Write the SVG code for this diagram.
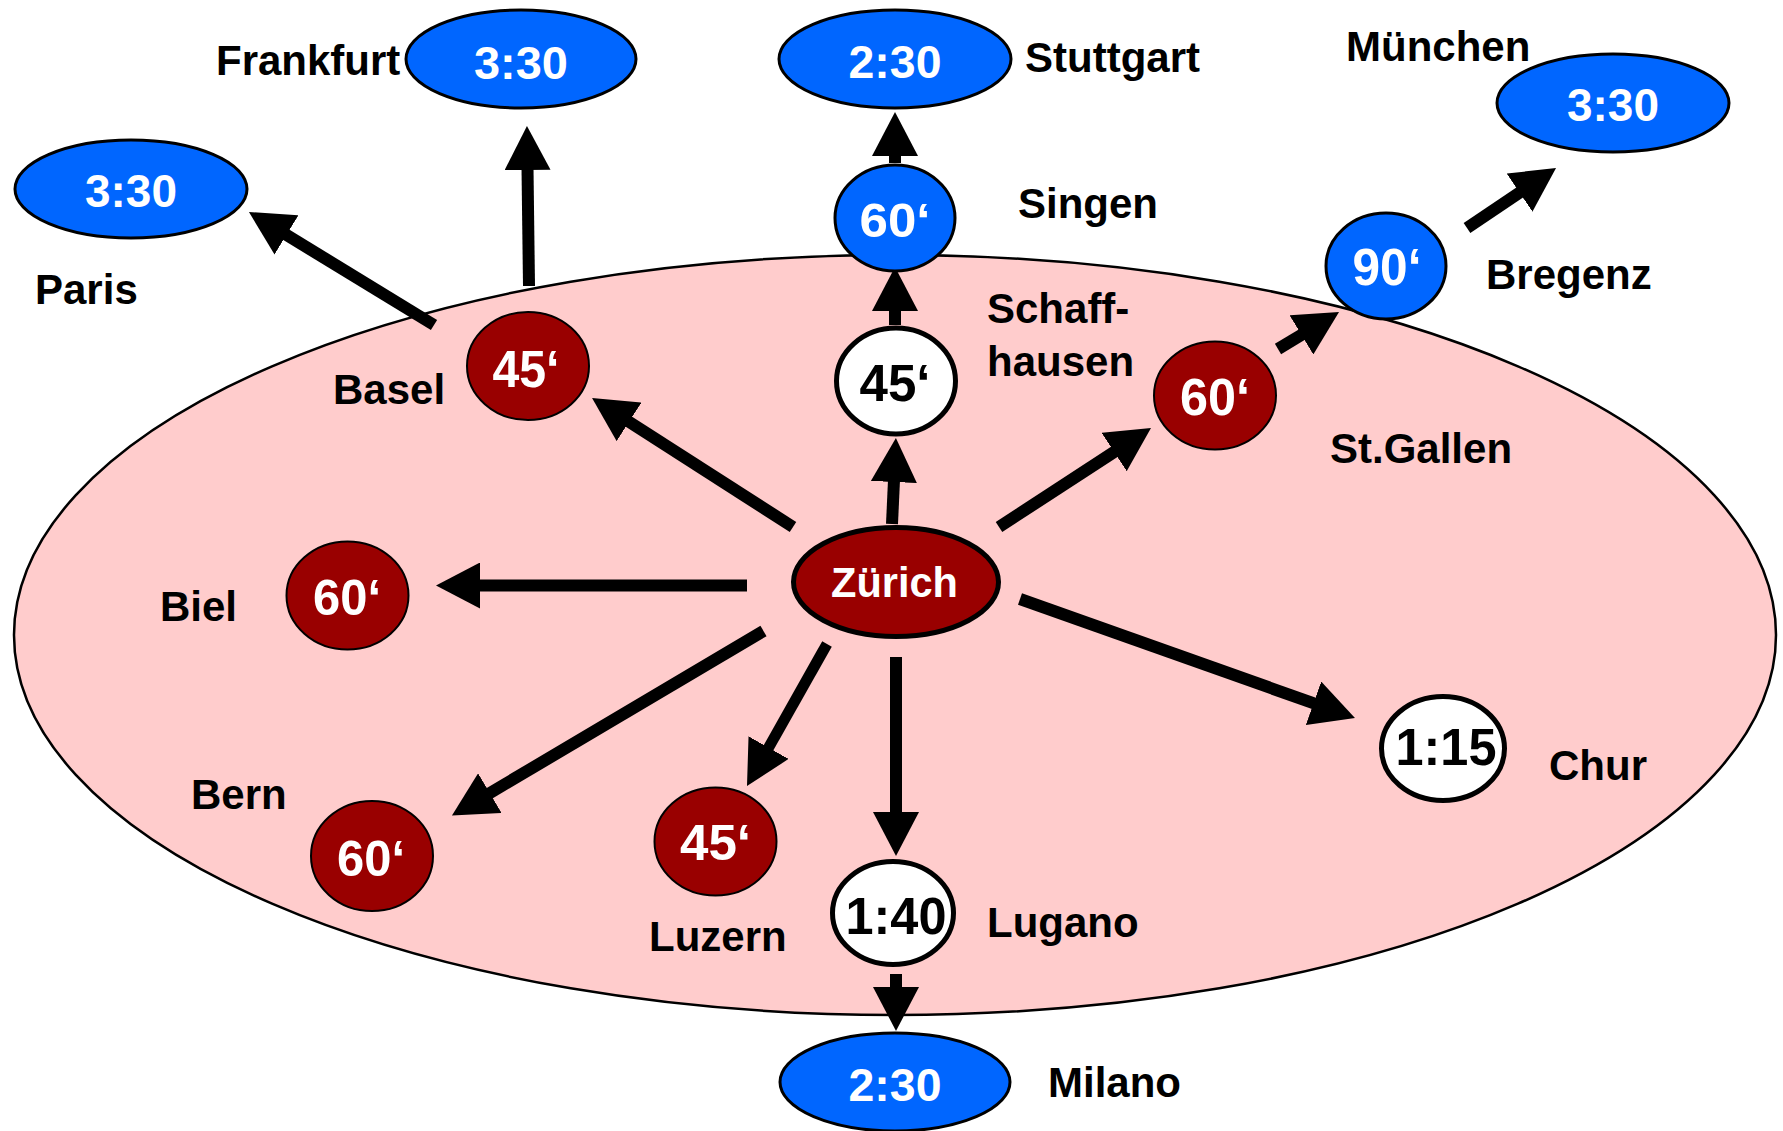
<svg xmlns="http://www.w3.org/2000/svg" width="1783" height="1131" viewBox="0 0 1783 1131">
<defs>
<style>
text{font-family:"Liberation Sans",Arial,sans-serif;font-weight:bold}
.lbl{font-size:42px;fill:#000}
.num{text-anchor:middle;fill:#fff}
.blue{fill:#0066FF;stroke:#000;stroke-width:3}
.red{fill:#990000;stroke:#000;stroke-width:2}
.wht{fill:#fff;stroke:#000;stroke-width:5}
.conn line{stroke:#000;stroke-width:12;stroke-linecap:butt;marker-end:url(#ah)}
</style>
<marker id="ah" viewBox="0 -23 46 46" markerWidth="46" markerHeight="46" refX="2" refY="0" markerUnits="userSpaceOnUse" orient="auto">
<path d="M0,-23 L44,0 L0,23 Z" fill="#000"/>
</marker>
</defs>
<rect width="1783" height="1131" fill="#fff"/>
<g id="region">
<ellipse cx="895" cy="635" rx="881" ry="380" fill="#FFCCCC" stroke="#000" stroke-width="2.5"/>
</g>
<g id="connectors" class="conn">
<line x1="793" y1="527" x2="627.4" y2="420.7"/>
<line x1="747" y1="585.5" x2="478" y2="585.5"/>
<line x1="763.5" y1="631" x2="488.1" y2="794.1"/>
<line x1="827" y1="644" x2="767.6" y2="749.4" style="stroke-width:11"/>
<line x1="896" y1="657" x2="896" y2="814"/>
<line x1="896" y1="974" x2="896" y2="989"/>
<line x1="892" y1="524" x2="894" y2="480"/>
<line x1="895" y1="325" x2="895" y2="309"/>
<line x1="895" y1="163" x2="895" y2="154"/>
<line x1="999" y1="527" x2="1115.8" y2="450.9"/>
<line x1="1278" y1="349" x2="1303.1" y2="333.8"/>
<line x1="1467" y1="228" x2="1521.2" y2="191.5"/>
<line x1="1020" y1="599" x2="1315.4" y2="703.9"/>
<line x1="434" y1="325" x2="284.8" y2="233.9"/>
<line x1="529" y1="286" x2="527.5" y2="168"/>
</g>
<g id="paris">
<ellipse class="blue" cx="131" cy="189" rx="116" ry="49"/>
<text class="num" x="131" y="207" font-size="47" textLength="92" lengthAdjust="spacingAndGlyphs">3:30</text>
<text class="lbl" x="35" y="304">Paris</text>
</g>
<g id="frankfurt">
<ellipse class="blue" cx="521" cy="59" rx="115" ry="49"/>
<text class="num" x="521" y="79" font-size="47" textLength="94" lengthAdjust="spacingAndGlyphs">3:30</text>
<text class="lbl" x="216" y="75">Frankfurt</text>
</g>
<g id="stuttgart">
<ellipse class="blue" cx="895" cy="59" rx="116" ry="49"/>
<text class="num" x="895" y="78" font-size="47" textLength="93" lengthAdjust="spacingAndGlyphs">2:30</text>
<text class="lbl" x="1025" y="72">Stuttgart</text>
</g>
<g id="muenchen">
<ellipse class="blue" cx="1613" cy="103" rx="116" ry="49"/>
<text class="num" x="1613" y="121" font-size="47" textLength="92" lengthAdjust="spacingAndGlyphs">3:30</text>
<text class="lbl" x="1346" y="61">München</text>
</g>
<g id="singen">
<ellipse class="blue" cx="895" cy="218" rx="60" ry="53"/>
<text class="num" x="895" y="237" font-size="49" textLength="71" lengthAdjust="spacingAndGlyphs">60‘</text>
<text class="lbl" x="1018" y="218">Singen</text>
</g>
<g id="bregenz">
<ellipse class="blue" cx="1386" cy="266" rx="60" ry="53"/>
<text class="num" x="1387" y="285" font-size="51" textLength="69" lengthAdjust="spacingAndGlyphs">90‘</text>
<text class="lbl" x="1486" y="289">Bregenz</text>
</g>
<g id="schaffhausen">
<ellipse class="wht" cx="896" cy="381" rx="59.5" ry="53"/>
<text class="num" x="895" y="401" font-size="51" textLength="71" lengthAdjust="spacingAndGlyphs" style="fill:#000">45‘</text>
<text class="lbl" x="987" y="323">Schaff-</text>
<text class="lbl" x="987" y="376">hausen</text>
</g>
<g id="stgallen">
<ellipse class="red" cx="1215" cy="395.5" rx="61" ry="54"/>
<text class="num" x="1215" y="415" font-size="51" textLength="70" lengthAdjust="spacingAndGlyphs">60‘</text>
<text class="lbl" x="1330" y="463">St.Gallen</text>
</g>
<g id="basel">
<ellipse class="red" cx="528" cy="366" rx="61" ry="54"/>
<text class="num" x="526" y="387" font-size="51" textLength="67" lengthAdjust="spacingAndGlyphs">45‘</text>
<text class="lbl" x="333" y="404">Basel</text>
</g>
<g id="biel">
<ellipse class="red" cx="347.5" cy="595.5" rx="61" ry="54"/>
<text class="num" x="347" y="615" font-size="50" textLength="68" lengthAdjust="spacingAndGlyphs">60‘</text>
<text class="lbl" x="160" y="621">Biel</text>
</g>
<g id="bern">
<ellipse class="red" cx="372" cy="856" rx="61" ry="55"/>
<text class="num" x="371" y="876" font-size="50" textLength="68" lengthAdjust="spacingAndGlyphs">60‘</text>
<text class="lbl" x="191" y="809">Bern</text>
</g>
<g id="luzern">
<ellipse class="red" cx="715.5" cy="841.5" rx="61" ry="54"/>
<text class="num" x="715.5" y="860" font-size="50" textLength="71" lengthAdjust="spacingAndGlyphs">45‘</text>
<text class="lbl" x="649" y="951">Luzern</text>
</g>
<g id="lugano">
<ellipse class="wht" cx="893" cy="913" rx="60.5" ry="51.5"/>
<text class="num" x="896" y="934" font-size="51" textLength="101" lengthAdjust="spacingAndGlyphs" style="fill:#000">1:40</text>
<text class="lbl" x="987" y="937">Lugano</text>
</g>
<g id="chur">
<ellipse class="wht" cx="1443" cy="748.5" rx="61.5" ry="52"/>
<text class="num" x="1446" y="765" font-size="51" textLength="101" lengthAdjust="spacingAndGlyphs" style="fill:#000">1:15</text>
<text class="lbl" x="1549" y="780">Chur</text>
</g>
<g id="milano">
<ellipse class="blue" cx="895" cy="1082" rx="115" ry="49"/>
<text class="num" x="895" y="1101" font-size="47" textLength="93" lengthAdjust="spacingAndGlyphs">2:30</text>
<text class="lbl" x="1048" y="1097">Milano</text>
</g>
<g id="zuerich">
<ellipse fill="#990000" stroke="#000" stroke-width="5" cx="896" cy="582" rx="102.5" ry="54.5"/>
<text class="num" x="894.5" y="597" font-size="42" textLength="127" lengthAdjust="spacingAndGlyphs">Zürich</text>
</g>
</svg>
